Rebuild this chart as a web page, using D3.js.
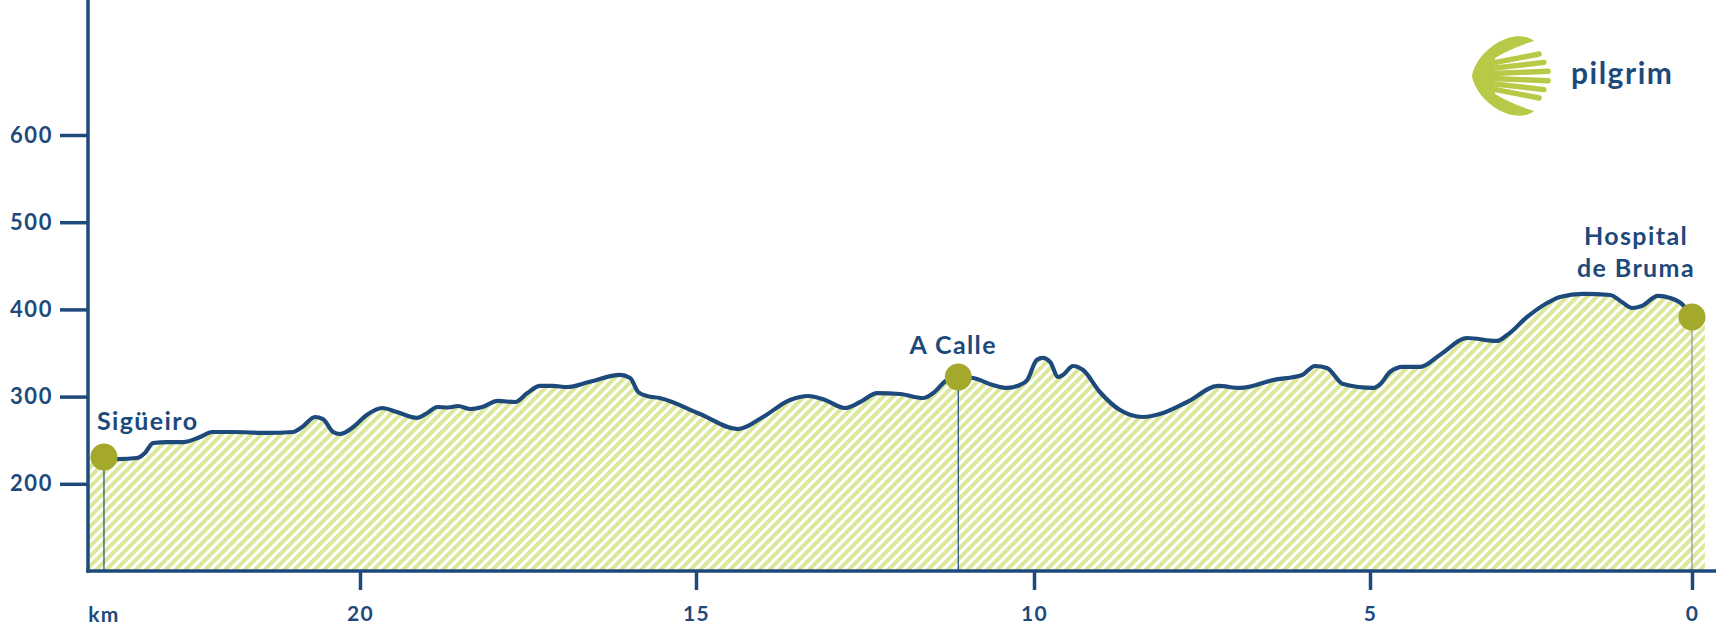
<!DOCTYPE html>
<html>
<head>
<meta charset="utf-8">
<script src="https://cdn.jsdelivr.net/npm/d3@7"></script>
<style>
  html, body { margin: 0; padding: 0; background: #ffffff; }
  svg { display: block; }
  text { font-family: Lato, "Open Sans", sans-serif; font-weight: 700; fill: #1e4a7b; }
</style>
</head>
<body>
<svg id="chart" width="1716" height="630"></svg>
<script>
// ---------------- DATA ----------------
const kmTicks = [20, 15, 10, 5, 0];
const elevTicks = [200, 300, 400, 500, 600];
const kmLabel = "km";

// elevation profile (distance to Hospital de Bruma in km, elevation in m)
const profileKm = [
  24.05, 23.81, 23.60, 23.32, 23.20, 23.08, 22.87, 22.63, 22.38, 22.20,
  21.89, 21.38, 21.00, 20.86, 20.67, 20.55, 20.40, 20.30, 20.10, 19.90,
  19.67, 19.45, 19.15, 19.00, 18.85, 18.69, 18.54, 18.36, 18.18, 17.95,
  17.69, 17.51, 17.32, 17.13, 16.92, 16.58, 16.13, 15.98, 15.86, 15.73,
  15.54, 14.94, 14.38, 14.01, 13.61, 13.34, 13.09, 12.80, 12.57, 12.32,
  11.98, 11.64, 11.49, 11.29, 11.12, 10.90, 10.61, 10.40, 10.21, 10.10,
  9.96, 9.87, 9.76, 9.64, 9.57, 9.42, 9.27, 9.02, 8.72, 8.38,
  8.08, 7.72, 7.26, 6.93, 6.44, 6.01, 5.82, 5.64, 5.40, 4.95,
  4.84, 4.69, 4.49, 4.22, 3.91, 3.49, 3.03, 2.87, 2.56, 2.25,
  2.05, 1.69, 1.27, 1.09, 0.93, 0.78, 0.53, 0.34, 0.14, 0.00,
  -0.20
];
const profileElev = [
  230.7, 230.7, 228.4, 229.6, 235.3, 246.8, 247.9, 247.9, 253.7, 259.4,
  259.4, 258.3, 259.4, 265.1, 276.6, 274.3, 259.4, 257.1, 265.1, 278.9,
  286.9, 282.3, 275.5, 281.2, 288.1, 287.5, 289.2, 285.8, 288.1, 295.0,
  293.8, 304.1, 312.2, 312.2, 311.0, 317.0, 324.8, 321.3, 305.3, 300.7,
  298.4, 280.0, 262.8, 276.6, 296.1, 300.7, 296.1, 286.9, 293.8, 304.1,
  303.0, 298.4, 304.1, 319.0, 322.5, 321.3, 313.3, 309.9, 313.3, 319.0,
  342.0, 344.3, 339.7, 322.5, 324.8, 335.1, 330.5, 305.3, 284.6, 276.6,
  281.2, 293.8, 312.2, 309.9, 319.0, 324.8, 335.1, 332.8, 314.4, 309.9,
  314.4, 328.2, 334.0, 334.0, 348.0, 367.2, 363.8, 370.6, 391.3, 407.3,
  414.2, 417.7, 416.5, 408.5, 401.6, 403.9, 415.4, 413.1, 405.0, 391.3,
  391.3
];

// stages
const stopNames = ["Sigüeiro", "A Calle", "Hospital de Bruma"];
const stopKm = [23.81, 11.12, 0];
const stopElev = [230.7, 322.5, 391.3];

const brandName = "pilgrim";

// ---------------- DRAWING ----------------
const navy = "#1e4a7b";
const olive = "#a4a82b";
const stripe = "#dbe79b";

const svg = d3.select("#chart");

const x = d3.scaleLinear()
  .domain([0, 5, 10, 15, 20, 25])
  .range([1692, 1370, 1034, 696, 360, 24]);
const y = d3.scaleLinear()
  .domain([100, 600])
  .range([571, 135]);

const axisX0 = 88;
const baseY = y(100);

// hatch pattern
const defs = svg.append("defs");
const pat = defs.append("pattern")
  .attr("id", "hatch")
  .attr("patternUnits", "userSpaceOnUse")
  .attr("width", 7).attr("height", 7)
  .attr("patternTransform", "rotate(45)");
pat.append("rect").attr("width", 7).attr("height", 7).attr("fill", "#ffffff");
pat.append("rect").attr("x", 0).attr("width", 4).attr("height", 7).attr("fill", stripe);

const profile = profileKm.map((k, i) => ({ km: k, elev: profileElev[i] }));

// area
const area = d3.area()
  .x(d => x(d.km))
  .y0(baseY)
  .y1(d => y(d.elev))
  .curve(d3.curveMonotoneX);
svg.append("path")
  .datum(profile)
  .attr("d", area)
  .attr("fill", "url(#hatch)");

// drop lines
stopKm.forEach((k, i) => {
  svg.append("line")
    .attr("x1", x(k)).attr("x2", x(k))
    .attr("y1", y(stopElev[i])).attr("y2", baseY)
    .attr("stroke", i === 2 ? "#8b909c" : navy)
    .attr("stroke-width", 1.2);
});

// profile line (between first and last stage)
const lineData = profile.filter(d => d.km <= stopKm[0] && d.km >= stopKm[2]);
const line = d3.line()
  .x(d => x(d.km))
  .y(d => y(d.elev))
  .curve(d3.curveMonotoneX);
svg.append("path")
  .datum(lineData)
  .attr("d", line)
  .attr("fill", "none")
  .attr("stroke", navy)
  .attr("stroke-width", 4.2)
  .attr("stroke-linejoin", "round")
  .attr("stroke-linecap", "round");

// Y axis
const yAxis = d3.axisLeft(y).tickValues(elevTicks).tickSize(28).tickPadding(7);
const gy = svg.append("g").attr("transform", `translate(${axisX0},0)`).call(yAxis);
gy.select(".domain").remove();
gy.selectAll(".tick line").attr("stroke", navy).attr("stroke-width", 3.5);
gy.selectAll(".tick text")
  .attr("fill", navy)
  .style("font-size", "22px")
  .style("letter-spacing", "1.6px")
  .style("font-family", "Lato, sans-serif")
  .style("font-weight", "700");
svg.append("line")
  .attr("x1", axisX0).attr("x2", axisX0)
  .attr("y1", 0).attr("y2", baseY + 1.75)
  .attr("stroke", navy).attr("stroke-width", 3.5);

// X axis
const xAxis = d3.axisBottom(x).tickValues(kmTicks).tickSize(19).tickPadding(16);
const gx = svg.append("g").attr("transform", `translate(0,${baseY})`).call(xAxis);
gx.select(".domain").remove();
gx.selectAll(".tick line").attr("stroke", navy).attr("stroke-width", 3.5);
gx.selectAll(".tick text")
  .attr("fill", navy)
  .style("font-size", "21px")
  .style("letter-spacing", "1.4px")
  .style("font-family", "Lato, sans-serif")
  .style("font-weight", "700");
svg.append("line")
  .attr("x1", axisX0 - 1.75).attr("x2", 1716)
  .attr("y1", baseY).attr("y2", baseY)
  .attr("stroke", navy).attr("stroke-width", 3.5);

svg.append("text")
  .attr("x", x(stopKm[0]))
  .attr("y", baseY + 51)
  .attr("text-anchor", "middle")
  .style("font-size", "21px")
  .style("letter-spacing", "1.2px")
  .text(kmLabel);

// stage dots
stopKm.forEach((k, i) => {
  svg.append("circle")
    .attr("cx", x(k)).attr("cy", y(stopElev[i]))
    .attr("r", 13.5)
    .attr("fill", olive);
});

// stage labels
const labelStyle = sel => sel.style("font-size", "25px").style("letter-spacing", "1.4px");
svg.append("text")
  .attr("x", x(stopKm[0]) - 7)
  .attr("y", y(stopElev[0]) - 27)
  .attr("text-anchor", "start")
  .call(labelStyle)
  .text(stopNames[0]);
svg.append("text")
  .attr("x", x(stopKm[1]) - 5)
  .attr("y", y(stopElev[1]) - 23)
  .attr("text-anchor", "middle")
  .call(labelStyle)
  .text(stopNames[1]);
const hosp = stopNames[2].split(" ");
const hx = x(stopKm[2]) - 56;
svg.append("text")
  .attr("x", hx).attr("y", y(stopElev[2]) - 72)
  .attr("text-anchor", "middle")
  .call(labelStyle)
  .text(hosp[0]);
svg.append("text")
  .attr("x", hx).attr("y", y(stopElev[2]) - 40)
  .attr("text-anchor", "middle")
  .call(labelStyle)
  .text(hosp.slice(1).join(" "));

// logo
const logo = svg.append("g");
const shellGreen = "#b7c947";
logo.append("path")
  .attr("d", "M1472,76 C1475,60 1490,44 1508,38 C1518,35 1529,36 1534,41 C1521,45 1506,51 1495,58 L1495,94 C1506,101 1521,107 1534,111 C1529,116 1518,117 1508,114 C1490,108 1475,92 1472,76 Z")
  .attr("fill", shellGreen);
const rayAngles = [-11, -6.6, -2.2, 2.2, 6.6, 11];
const fx = 1426, fy = 76;
rayAngles.forEach(a => {
  const r = a * Math.PI / 180;
  const r0 = 66, r1 = 124 - Math.abs(a) * 0.8;
  logo.append("line")
    .attr("x1", fx + r0 * Math.cos(r)).attr("y1", fy + r0 * Math.sin(r))
    .attr("x2", fx + r1 * Math.cos(r)).attr("y2", fy + r1 * Math.sin(r))
    .attr("stroke", shellGreen)
    .attr("stroke-width", 5.4)
    .attr("stroke-linecap", "round");
});
logo.append("text")
  .attr("x", 1571).attr("y", 84)
  .style("font-size", "30px")
  .style("letter-spacing", "1.5px")
  .text(brandName);
</script>
</body>
</html>
